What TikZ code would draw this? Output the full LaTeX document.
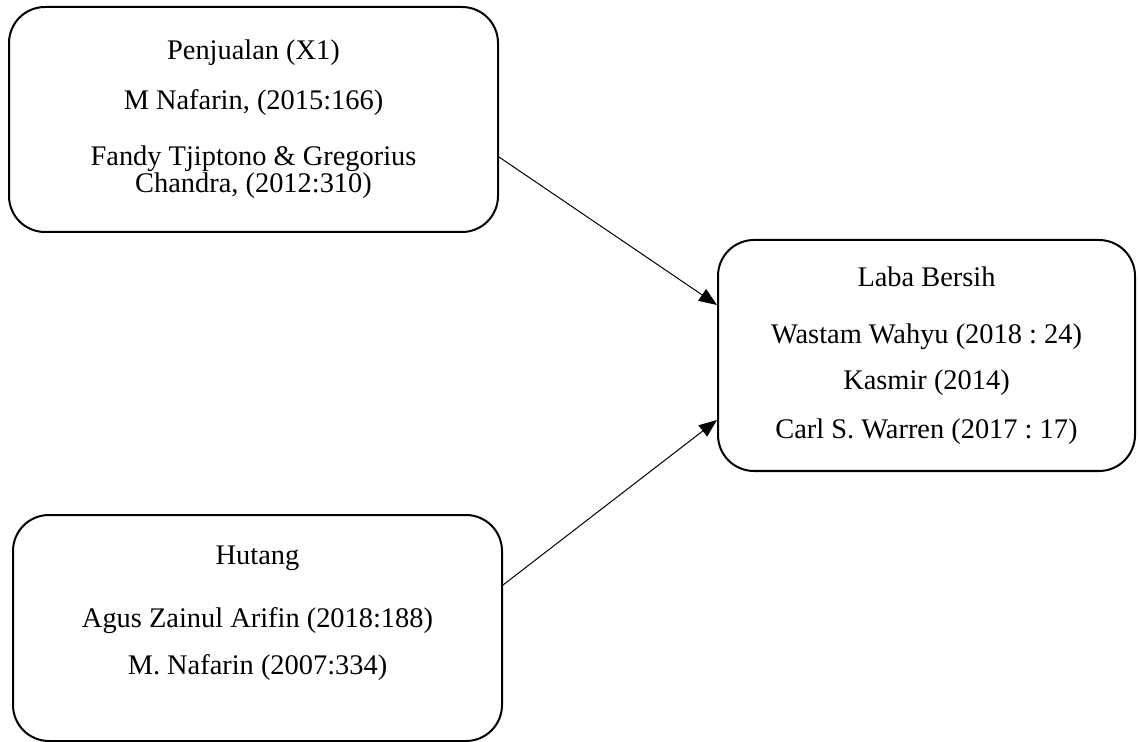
\documentclass[tikz,border=0pt]{standalone}
\usepackage{fontspec}
\setmainfont{Liberation Serif}
\usetikzlibrary{arrows.meta,positioning}
\frenchspacing

\begin{document}
\begin{tikzpicture}[
    x=0.5pt,y=-0.5pt,
    font=\fontsize{14.2}{13.5}\selectfont,
    refbox/.style={draw=black,line width=1pt,rounded corners=18pt,align=center,inner sep=0pt},
    arrow/.style={-{Triangle[length=9pt,width=7pt]},line width=0.5pt,draw=black}
  ]
    \useasboundingbox (0,0) rectangle (1139,742);
    \node[refbox,minimum width=244.5pt,minimum height=112.5pt] (penjualan) at (253.5,119.5)
      {Penjualan (X1)\\[11.5pt] M Nafarin, (2015:166)\\[14.5pt] Fandy Tjiptono \& Gregorius\\ Chandra, (2012:310)};
    \node[refbox,minimum width=208.5pt,minimum height=115.5pt] (laba) at (926.5,355.5)
      {Laba Bersih\\[15pt] Wastam Wahyu (2018 : 24)\\[9.5pt] Kasmir (2014)\\[11pt] Carl S. Warren (2017 : 17)};
    \node[refbox,minimum width=244.5pt,minimum height=113pt,text depth=18pt] (hutang) at (257.5,628)
      {Hutang\\[18pt] Agus Zainul Arifin (2018:188)\\[10pt] M. Nafarin (2007:334)};
    \draw[arrow] ([yshift=-18.75pt]penjualan.east) -- ([yshift=25.25pt]laba.west);
    \draw[arrow] ([yshift=21.5pt]hutang.east) -- ([yshift=-32.25pt]laba.west);
  \end{tikzpicture}
\end{document}
